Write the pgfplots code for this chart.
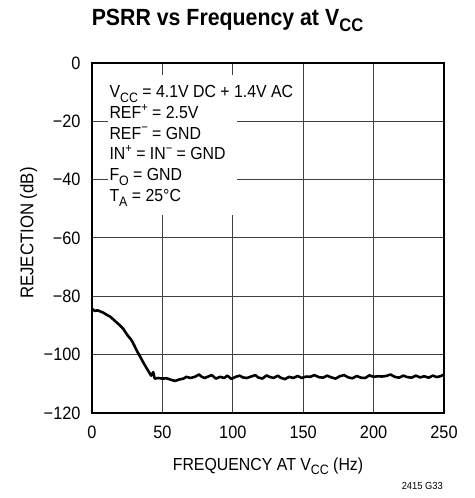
\documentclass[border=0pt]{standalone}
\usepackage{pgfplots}
\pgfplotsset{compat=1.18}
\usepackage{fontspec}
\setmainfont{Liberation Sans}[FakeStretch=0.91]

% sub/superscripts in the text font
\newcommand\lo[1]{\raisebox{-0.28em}{\scalebox{0.78}{#1}}}
\newcommand\hi[1]{\raisebox{0.42em}{\scalebox{0.7}{#1}}}

\begin{document}
\begin{tikzpicture}[x=1bp,y=1bp]
  \useasboundingbox (0,0) rectangle (475,498);
  \begin{axis}[
      at={(92bp,85bp)}, anchor=south west,
      width=352bp, height=350bp, scale only axis,
      xmin=0, xmax=250, ymin=-120, ymax=0,
      xtick={0,50,...,250},
      ytick={-120,-100,...,0},
      yticklabels={−120,−100,−80,−60,−40,−20,0},
      major tick length=0pt,
      grid=major,
      major grid style={draw=black!75, line width=1pt},
      axis line style={line width=1.6pt},
      tick label style={font=\fontsize{18}{20}\selectfont},
      /pgf/number format/assume math mode=true,
      xticklabel style={yshift=-9bp},
      yticklabel style={xshift=-8bp},
      xlabel={FREQUENCY AT V\lo{CC} (Hz)},
      ylabel={REJECTION (dB)},
      x label style={font=\fontsize{17.5}{20}\selectfont, at={(axis description cs:0.5,-0.152)}, anchor=center},
      y label style={font=\fontsize{18.5}{20}\selectfont, at={(axis description cs:-0.18,0.514)}, anchor=center, rotate=0},
      title={\bfseries PSRR vs Frequency at V\lo{CC}},
      title style={font=\fontsize{23.5}{26}\selectfont, at={(axis description cs:0.385,1.091)}, anchor=base},
    ]
    % white box behind the conditions text
    \fill[white] (axis cs:11.4,-4.1) rectangle (axis cs:103,-52.1);

    \addplot[black, line width=2.6pt, line join=round] coordinates { % PSRR
      (0,-84.3) (2,-85.0) (4,-84.8) (6,-85.2) (8,-85.6) (10,-86.2)
      (13,-87.0) (16,-88.3) (19,-89.6) (22,-91.0) (25,-93.2) (28,-95.0)
      (30,-96.8) (32,-98.8) (34,-100.5) (36,-102.3) (38,-104.0) (40,-105.6)
      (42,-107.2) (43.5,-106.0) (44.5,-108.2) (47,-108.0) (50,-108.2)
      (53,-108.1) (56,-108.6) (59,-109.0) (62,-108.5) (65,-108.2) (67,-107.6)
      (70,-108.0) (73,-107.6) (76,-106.8) (78,-107.6) (80,-108.0) (83,-107.4)
      (85,-107.0) (88,-108.2) (91,-107.6) (94,-108.0) (96,-107.2) (99,-108.3)
      (102,-107.6) (105,-107.2) (107,-107.8) (110,-108.0) (113,-107.5)
      (116,-107.0) (118,-107.8) (121,-108.2) (124,-107.1) (126,-107.6)
      (129,-108.0) (132,-107.2) (134,-107.9) (137,-108.4) (140,-107.6)
      (143,-108.0) (146,-107.3) (149,-108.0) (152,-107.5) (155,-107.6)
      (158,-107.0) (161,-107.7) (164,-107.9) (167,-107.2) (170,-107.8)
      (173,-108.2) (176,-107.4) (179,-107.0) (182,-107.8) (185,-108.1)
      (188,-107.3) (191,-107.9) (194,-108.0) (197,-107.1) (200,-107.6)
      (203,-107.4) (206,-107.5) (209,-107.3) (212,-106.8) (215,-107.6)
      (218,-107.9) (221,-107.2) (224,-107.7) (227,-107.9) (230,-107.2)
      (233,-107.8) (236,-107.4) (239,-107.9) (242,-107.2) (245,-107.7)
      (248,-107.3) (250,-106.8)
    };

    \begin{scope}[font=\fontsize{17.5}{20}\selectfont]
      \node[anchor=base west, inner sep=0pt] at (axis cs:12.3,-11.9) {V\lo{CC} = 4.1V DC + 1.4V AC};
      \node[anchor=base west, inner sep=0pt] at (axis cs:12.3,-19.0) {REF\hi{+} = 2.5V};
      \node[anchor=base west, inner sep=0pt] at (axis cs:12.3,-26.1) {REF\hi{−} = GND};
      \node[anchor=base west, inner sep=0pt] at (axis cs:12.3,-33.2) {IN\hi{+} = IN\hi{−} = GND};
      \node[anchor=base west, inner sep=0pt] at (axis cs:12.3,-40.3) {F\lo{O} = GND};
      \node[anchor=base west, inner sep=0pt] at (axis cs:12.3,-47.4) {T\lo{A} = 25°C};
    \end{scope}
  \end{axis}
  \node[anchor=base east, inner sep=0pt, font=\fontsize{10.3}{12}\selectfont] at (443,8) {2415 G33};
\end{tikzpicture}
\end{document}
